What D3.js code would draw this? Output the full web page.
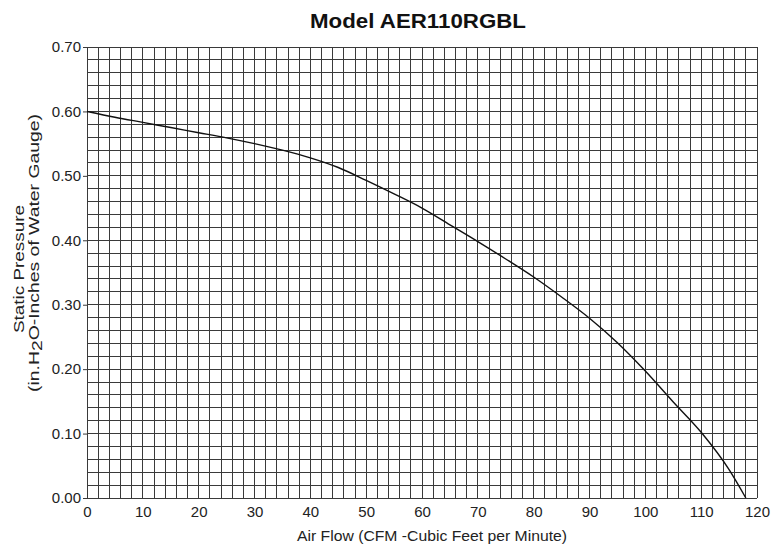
<!DOCTYPE html>
<html>
<head>
<meta charset="utf-8">
<script src="https://cdn.jsdelivr.net/npm/d3@7"></script>
<style>
body { margin: 0; background: #fff; }
svg { font-family: "Liberation Sans", Arial, sans-serif; }
</style>
</head>
<body>
<div id="chart"></div>
<script>
// fan curve
let airFlow = [0, 5, 10, 15, 20, 25, 30, 35, 40, 45, 50, 55, 60, 65, 70, 75, 80, 85, 90, 95, 100, 105, 110, 115, 118];
let pressure = [0.600, 0.591, 0.583, 0.575, 0.567, 0.559, 0.550, 0.540, 0.528, 0.513, 0.493, 0.472, 0.450, 0.424, 0.398, 0.371, 0.343, 0.312, 0.279, 0.241, 0.197, 0.149, 0.102, 0.044, 0.000];
let xTicks = [0, 10, 20, 30, 40, 50, 60, 70, 80, 90, 100, 110, 120];
let yTicks = [0, 0.1, 0.2, 0.3, 0.4, 0.5, 0.6, 0.7];
let title = "Model AER110RGBL";

let width = 782, height = 546;
let margin = {top: 47, right: 25, bottom: 48, left: 87};

let svg = d3.select("#chart").append("svg")
    .attr("width", width)
    .attr("height", height);

let x = d3.scaleLinear()
    .domain([0, 120])
    .range([margin.left, width - margin.right]);
let y = d3.scaleLinear()
    .domain([0, 0.7])
    .range([height - margin.bottom, margin.top]);

// grid: every 2 CFM and every 0.02 in.
let gx = d3.range(0, 121, 2);
let gy = d3.range(0, 36).map(i => i * 0.02);
let grid = svg.append("g")
    .attr("stroke", "#3a3a3a")
    .attr("stroke-width", 1)
    .attr("shape-rendering", "crispEdges");
grid.selectAll("line.v").data(gx).join("line")
    .attr("class", "v")
    .attr("x1", d => x(d)).attr("x2", d => x(d))
    .attr("y1", y(0)).attr("y2", y(0.7));
grid.selectAll("line.h").data(gy).join("line")
    .attr("class", "h")
    .attr("x1", x(0)).attr("x2", x(120))
    .attr("y1", d => y(d)).attr("y2", d => y(d));

let x_axis = g => g
    .attr("transform", `translate(0, ${y(0)})`)
    .call(d3.axisBottom(x).tickValues(xTicks).tickSize(0).tickPadding(8).tickFormat(d3.format("d")))
    .call(g => g.select(".domain").remove());

let y_axis = g => g
    .attr("transform", `translate(${x(0)}, 0)`)
    .call(d3.axisLeft(y).tickValues(yTicks).tickSize(4).tickPadding(2).tickFormat(d3.format(".2f")))
    .call(g => g.select(".domain").remove());

svg.append("g").call(x_axis);
svg.append("g").call(y_axis);
svg.selectAll(".tick text")
    .attr("font-size", 15)
    .attr("font-family", "Liberation Sans, Arial, sans-serif")
    .attr("fill", "#222");
svg.selectAll(".tick line").attr("stroke", "#3a3a3a");

let data = airFlow.map((d, i) => ({flow: d, p: pressure[i]}));
let line = d3.line()
    .x(d => x(d.flow))
    .y(d => y(d.p))
    .curve(d3.curveMonotoneX);

svg.append("path")
    .datum(data)
    .attr("fill", "none")
    .attr("stroke", "#111")
    .attr("stroke-width", 1.4)
    .attr("d", line);

svg.append("text")
    .attr("x", 418)
    .attr("y", 28)
    .attr("text-anchor", "middle")
    .attr("font-size", 21)
    .attr("font-weight", "bold")
    .attr("fill", "#111")
    .attr("textLength", 216)
    .attr("lengthAdjust", "spacingAndGlyphs")
    .text(title);

svg.append("text")
    .attr("x", 432)
    .attr("y", 541)
    .attr("text-anchor", "middle")
    .attr("font-size", 15)
    .attr("fill", "#222")
    .attr("textLength", 270)
    .attr("lengthAdjust", "spacingAndGlyphs")
    .text("Air Flow (CFM  -Cubic Feet per Minute)");

let ytitle = svg.append("g")
    .attr("font-size", 15)
    .attr("fill", "#222")
    .attr("text-anchor", "middle");
ytitle.append("text")
    .attr("transform", "translate(24, 269) rotate(-90)")
    .attr("textLength", 128)
    .attr("lengthAdjust", "spacingAndGlyphs")
    .text("Static Pressure");
let t2 = ytitle.append("text")
    .attr("transform", "translate(38.5, 253) rotate(-90)")
    .attr("textLength", 278)
    .attr("lengthAdjust", "spacingAndGlyphs");
t2.append("tspan").text("(in.H");
t2.append("tspan").attr("baseline-shift", "-3").text("2");
t2.append("tspan").text("O-Inches of Water Gauge)");
</script>
</body>
</html>
